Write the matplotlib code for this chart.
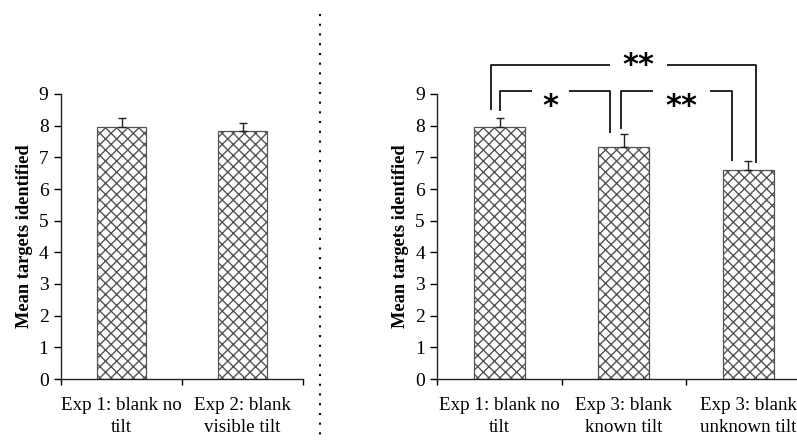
import matplotlib
matplotlib.use("Agg")
import matplotlib.pyplot as plt
from matplotlib.lines import Line2D

plt.rcParams['font.family'] = ['Liberation Serif', 'DejaVu Serif']
plt.rcParams['hatch.linewidth'] = 1.0
plt.rcParams['hatch.color'] = '#3a3a3a'

# ---- data ----
left_categories = ["Exp 1: blank no\ntilt", "Exp 2: blank\nvisible tilt"]
left_means = [7.97, 7.82]
left_errors = [0.27, 0.28]

right_categories = ["Exp 1: blank no\ntilt", "Exp 3: blank\nknown tilt", "Exp 3: blank\nunknown tilt"]
right_means = [7.97, 7.32, 6.60]
right_errors = [0.27, 0.42, 0.27]

y_ticks = list(range(0, 10))
y_label = "Mean targets identified"

# significance brackets: (x_left, y_left_bottom, x_right, y_right_bottom, y_top, gap_left, gap_right, text, text_y)
brackets = [
    (-0.07, 8.49, 2.066, 6.83, 9.90, 0.889, 1.35, "**", 9.89),
    (0.00, 8.46, 0.889, 7.78, 9.09, 0.259, 0.561, "*", 8.59),
    (0.975, 7.90, 1.868, 6.88, 9.09, 1.235, 1.693, "**", 8.59),
]

fig = plt.figure(figsize=(7.97, 4.40), dpi=100)

W, H = 797, 440
def add_axes_px(x0, x1, y_top, y_bottom):
    return fig.add_axes([x0 / W, (H - y_bottom) / H, (x1 - x0) / W, (y_bottom - y_top) / H])

ax1 = add_axes_px(61, 303, 94, 379)
ax2 = add_axes_px(437.4, 810.3, 94, 379)

def style_axis(ax, cats, means, errs):
    n = len(cats)
    x = list(range(n))
    ax.bar(x, means, width=0.41, color='white', edgecolor='#555555',
           linewidth=0.9, hatch='xxx', zorder=2)
    ax.errorbar(x, means, yerr=[[0] * n, errs], fmt='none', ecolor='#222222',
                elinewidth=1.0, capsize=3, capthick=1.0, zorder=3)
    ax.set_xlim(-0.5, n - 0.5)
    ax.set_ylim(0, 9)
    ax.set_yticks(y_ticks)
    ax.set_xticks(x)
    ax.set_xticklabels(cats, fontsize=13.7, linespacing=1.36)
    ax.set_xticks([i - 0.5 for i in range(n + 1)], minor=True)
    ax.tick_params(axis='x', which='major', length=0, pad=13)
    ax.tick_params(axis='x', which='minor', length=4, width=1, direction='out')
    ax.tick_params(axis='y', length=5, width=1, direction='out', labelsize=14, pad=4)
    for s in ('top', 'right'):
        ax.spines[s].set_visible(False)
    for s in ('left', 'bottom'):
        ax.spines[s].set_linewidth(1.0)
        ax.spines[s].set_color('#222222')
    ax.set_ylabel(y_label, fontsize=13.2, fontweight='bold', labelpad=4)
    ax.patch.set_alpha(0)

style_axis(ax1, left_categories, left_means, left_errors)
style_axis(ax2, right_categories, right_means, right_errors)

for (xl, yl, xr, yr, yt, gl, gr, txt, ty) in brackets:
    kw = dict(color='black', lw=1.2, clip_on=False, solid_capstyle='butt')
    ax2.plot([xl, xl, gl], [yl, yt, yt], **kw)
    ax2.plot([gr, xr, xr], [yt, yt, yr], **kw)
    ax2.text((gl + gr) / 2, ty, txt, ha='center', va='center',
             fontsize=22, fontweight='bold', family=['DejaVu Sans'], clip_on=False)

# dotted separator
fig.add_artist(Line2D([319.5 / W, 319.5 / W], [1 - 14 / H, 0], transform=fig.transFigure,
                      color='black', lw=1.5, linestyle=(0, (1, 3.67))))

fig.savefig("out.png", dpi=100)
